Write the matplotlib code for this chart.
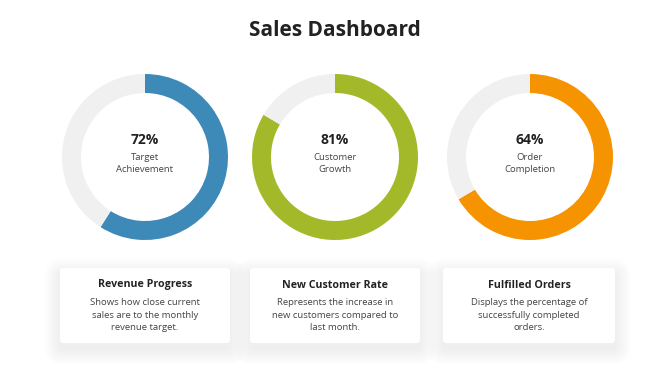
import matplotlib.pyplot as plt
from matplotlib.patches import FancyBboxPatch

plt.rcParams['font.family'] = ['Open Sans', 'DejaVu Sans']

title = 'Sales Dashboard'
values = [72, 81, 64]
# share of each ring that is actually filled in the picture
arc_shares = [59, 83.5, 66.5]
labels = ['Target\nAchievement', 'Customer\nGrowth', 'Order\nCompletion']
colors = ['#3d8ab8', '#a4b929', '#f59400']
card_titles = ['Revenue Progress', 'New Customer Rate', 'Fulfilled Orders']
card_texts = [
    'Shows how close current\nsales are to the monthly\nrevenue target.',
    'Represents the increase in\nnew customers compared to\nlast month.',
    'Displays the percentage of\nsuccessfully completed\norders.',
]

W, H = 670, 376
fig = plt.figure(figsize=(W / 100, H / 100), dpi=100)
bg = fig.add_axes([0, 0, 1, 1])
bg.set_xlim(0, W)
bg.set_ylim(H, 0)
bg.axis('off')

bg.text(335, 31, title, ha='center', va='center', fontsize=15,
        fontweight='bold', color='#222222')

centers = [145, 335, 530]
cy, r = 157, 83
card_x = [(60, 230), (250, 420), (443, 615)]
card_top, card_bot = 268, 343

for i, cx in enumerate(centers):
    ax = fig.add_axes([(cx - r) / W, (H - cy - r) / H, 2 * r / W, 2 * r / H])
    ax.pie([arc_shares[i], 100 - arc_shares[i]], colors=[colors[i], '#f0f0f0'],
           startangle=90, counterclock=False, radius=1,
           wedgeprops=dict(width=19 / r, linewidth=0))
    ax.set_xlim(-1, 1)
    ax.set_ylim(-1, 1)
    ax.axis('off')
    ax.text(0, 0.2, f'{values[i]}%', ha='center', va='center', fontsize=10,
            fontweight='bold', color='#222222')
    ax.text(0, -0.08, labels[i], ha='center', va='center', fontsize=6.8,
            color='#444444', linespacing=1.5)

    x0, x1 = card_x[i]
    # soft shadow
    for k in range(16, 0, -1):
        bg.add_patch(FancyBboxPatch((x0 - k, card_top - k + 6), x1 - x0 + 2 * k,
                                    card_bot - card_top + 2 * k,
                                    boxstyle=f'round,pad=0,rounding_size={k + 3}',
                                    facecolor='#000000', alpha=0.0035,
                                    linewidth=0))
    bg.add_patch(FancyBboxPatch((x0, card_top), x1 - x0, card_bot - card_top,
                                boxstyle='round,pad=0,rounding_size=3',
                                facecolor='white', linewidth=0))
    mid = (x0 + x1) / 2
    bg.text(mid, 285, card_titles[i], ha='center', va='center', fontsize=7.7,
            fontweight='bold', color='#222222')
    bg.text(mid, 315, card_texts[i], ha='center', va='center', fontsize=6.8,
            color='#444444', linespacing=1.55)

fig.savefig('out.png', dpi=100, facecolor='white')
